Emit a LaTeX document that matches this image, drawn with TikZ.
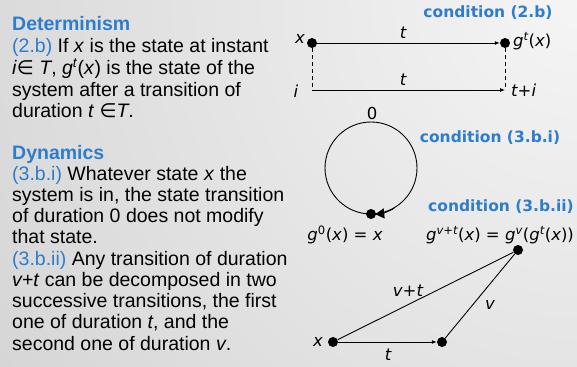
\documentclass[tikz,border=0pt]{standalone}
\usepackage{fontspec}
\setmainfont{Liberation Sans}
\newfontfamily\dv{DejaVu Sans}
\usetikzlibrary{arrows.meta}
\definecolor{blu}{RGB}{46,125,205}
\newcommand{\mem}{{\dv ∈}}
\tikzset{
  txt/.style={anchor=base west, inner sep=0pt, font=\fontsize{19.5}{22}\selectfont},
  lab/.style={inner sep=0pt, font=\dv\fontsize{16.5}{18}\selectfont},
  cond/.style={inner sep=0pt, text=blu, font=\dv\bfseries\fontsize{15.5}{18}\selectfont},
  dot/.style={circle, fill=black, inner sep=0pt, minimum size=10pt},
  arr/.style={-{Latex[length=5pt,width=4pt]}, line width=0.9pt},
  ln/.style={line width=0.9pt},
  dsh/.style={line width=0.9pt, dash pattern=on 4pt off 3pt}
}
\begin{document}
\begin{tikzpicture}[x=1pt,y=1pt]
\useasboundingbox (0,0) rectangle (577,-366);
\begin{scope}
\clip (0,0) rectangle (577,-366);
\shade[inner color=black!4, outer color=black!27] (577,0) circle (1300);
\end{scope}
% left text
\node[txt] (l1) at (12,-31) {\textcolor{blu}{\bfseries Determinism}};
\node[txt] (l2) at (12,-53) {\textcolor{blu}{(2.b)} If \textit{x} is the state at instant};
\node[txt] (l3) at (12,-75) {\textit{i}\mem\ \textit{T}, \textit{g}\textsuperscript{\textit{t}}(\textit{x}) is the state of the};
\node[txt] (l4) at (12,-96.5) {system after a transition of};
\node[txt] (l5) at (12,-118) {duration \textit{t} \mem\textit{T}.};
\node[txt] (l6) at (12,-159) {\textcolor{blu}{\bfseries Dynamics}};
\node[txt] (l7) at (12,-180) {\textcolor{blu}{(3.b.i)} Whatever state \textit{x} the};
\node[txt] (l8) at (12,-201.25) {system is in, the state transition};
\node[txt] (l9) at (12,-222.5) {of duration 0 does not modify};
\node[txt] (l10) at (12,-243.75) {that state.};
\node[txt] (l11) at (12,-265) {\textcolor{blu}{(3.b.ii)} Any transition of duration};
\node[txt] (l12) at (12,-286.25) {\textit{v+t} can be decomposed in two};
\node[txt] (l13) at (12,-307.5) {successive transitions, the first};
\node[txt] (l14) at (12,-328.75) {one of duration \textit{t}, and the};
\node[txt] (l15) at (12,-350) {second one of duration \textit{v}.};
% condition 2.b
\node[cond] (c2b) at (488,-13) {condition (2.b)};
\node[dot] (x1) at (312,-43) {};
\node[dot] (g1) at (505,-43) {};
\coordinate (i1) at (312,-90);
\coordinate (ti) at (505,-90);
\draw[arr] (x1) -- (g1);
\draw[dsh] (x1) -- (i1);
\draw[dsh] (g1) -- (ti);
\draw[arr] (i1) -- (ti);
\node[lab] (tl1) at (403,-33) {\itshape t};
\node[lab] (tl2) at (403,-80) {\itshape t};
\node[lab] (xl1) at (300,-39) {\itshape x};
\node[lab] (il) at (296,-91) {\itshape i};
\node[lab, anchor=west] (gl1) at (513,-41) {\itshape g\textsuperscript{t}\upshape(\itshape x\upshape)};
\node[lab, anchor=west] (til) at (511,-90) {\itshape t+i};
% condition 3.b.i
\node[draw, circle, line width=0.9pt, minimum size=92pt, inner sep=0pt] (cir) at (371,-168) {};
\node[lab] (zero) at (372,-113) {0};
\draw[line width=0.9pt, -{Triangle[length=9pt,width=10pt]}] (cir.-60) arc[start angle=-60, end angle=-85, radius=46pt];
\node[dot] (d0) at (371,-214) {};
\node[cond] (c3bi) at (490,-138) {condition (3.b.i)};
\node[lab] (g0) at (345,-235) {\itshape g\textsuperscript{\upshape 0}\upshape(\itshape x\upshape) = \itshape x};
% condition 3.b.ii
\node[cond] (c3bii) at (501,-207) {condition (3.b.ii)};
\node[lab] (gvt) at (500,-235) {\itshape g\textsuperscript{v+t}\upshape(\itshape x\upshape) = \itshape g\textsuperscript{v}\upshape(\itshape g\textsuperscript{t}\upshape(\itshape x\upshape))};
\node[dot] (ta) at (333,-342) {};
\node[dot] (tb) at (442,-342) {};
\node[dot] (tc) at (518,-250) {};
\draw[arr] (ta) -- (tb);
\draw[ln] (ta) -- (tc);
\draw[ln] (tb) -- (tc);
\node[lab] (xl2) at (318,-342) {\itshape x};
\node[lab] (tl3) at (388,-355) {\itshape t};
\node[lab] (vtl) at (408,-291) {\itshape v+t};
\node[lab] (vl) at (490,-305) {\itshape v};
\end{tikzpicture}
\end{document}
